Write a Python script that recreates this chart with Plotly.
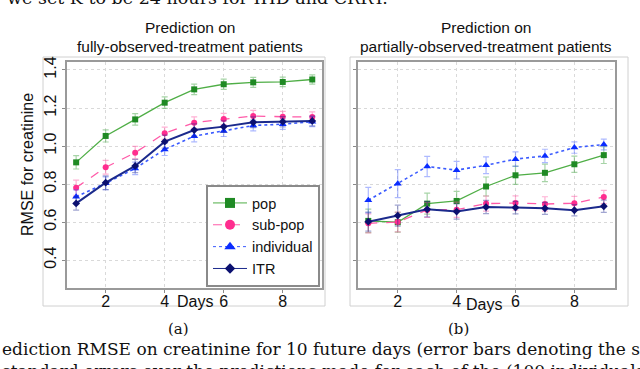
import plotly.graph_objects as go

days = [1, 2, 3, 4, 5, 6, 7, 8, 9]

# panel (a): fully-observed-treatment patients
a_pop = [0.914, 1.053, 1.140, 1.228, 1.298, 1.325, 1.335, 1.337, 1.350]
a_pop_err = [0.035, 0.032, 0.030, 0.030, 0.028, 0.027, 0.026, 0.025, 0.024]
a_sub = [0.781, 0.888, 0.965, 1.067, 1.123, 1.142, 1.158, 1.154, 1.153]
a_sub_err = [0.040, 0.036, 0.033, 0.032, 0.030, 0.030, 0.029, 0.028, 0.027]
a_ind = [0.733, 0.804, 0.882, 0.982, 1.052, 1.079, 1.108, 1.115, 1.128]
a_ind_err = [0.036, 0.034, 0.033, 0.032, 0.030, 0.029, 0.028, 0.027, 0.026]
a_itr = [0.698, 0.807, 0.895, 1.023, 1.084, 1.102, 1.125, 1.128, 1.132]
a_itr_err = [0.035, 0.036, 0.035, 0.034, 0.032, 0.030, 0.028, 0.027, 0.026]

# panel (b): partially-observed-treatment patients
b_pop = [0.606, 0.599, 0.697, 0.711, 0.787, 0.846, 0.859, 0.904, 0.952]
b_pop_err = [0.062, 0.052, 0.055, 0.050, 0.050, 0.048, 0.046, 0.043, 0.044]
b_sub = [0.593, 0.600, 0.664, 0.665, 0.697, 0.700, 0.695, 0.699, 0.732]
b_sub_err = [0.050, 0.052, 0.040, 0.040, 0.040, 0.038, 0.038, 0.036, 0.035]
b_ind = [0.715, 0.802, 0.892, 0.873, 0.899, 0.931, 0.948, 0.992, 1.008]
b_ind_err = [0.067, 0.074, 0.053, 0.046, 0.044, 0.038, 0.035, 0.030, 0.028]
b_itr = [0.602, 0.634, 0.667, 0.655, 0.679, 0.676, 0.672, 0.662, 0.683]
b_itr_err = [0.050, 0.055, 0.040, 0.040, 0.035, 0.033, 0.032, 0.030, 0.032]

y_ticks = [0.4, 0.6, 0.8, 1.0, 1.2, 1.4]
x_ticks = [2, 4, 6, 8]

methods = [
    # name, line colour, marker colour, error colour, dash, symbol, size, width
    ("pop", "#4fae46", "#1f8a24", "rgba(60,160,60,0.45)", "solid", "square", 6, 1.3),
    ("sub-pop", "#ff5aa8", "#ff2d8f", "rgba(255,80,160,0.45)", "dash", "circle", 6, 1.3),
    ("individual", "#3b5bff", "#0a2cff", "rgba(50,80,255,0.40)", "dot", "triangle-up", 7, 1.6),
    ("ITR", "#1b2a8c", "#0b1070", "rgba(20,30,140,0.40)", "solid", "diamond", 6, 2.0),
]

panels = [
    ("x", "y", [(a_pop, a_pop_err), (a_sub, a_sub_err), (a_ind, a_ind_err), (a_itr, a_itr_err)]),
    ("x2", "y2", [(b_pop, b_pop_err), (b_sub, b_sub_err), (b_ind, b_ind_err), (b_itr, b_itr_err)]),
]

fig = go.Figure()

for xa, ya, series in panels:
    for (name, lc, mc, ec, dash, sym, ms, lw), (vals, errs) in zip(methods, series):
        fig.add_trace(go.Scatter(
            x=days, y=vals, xaxis=xa, yaxis=ya, mode="lines+markers",
            line=dict(color=lc, width=lw, dash=dash),
            marker=dict(color=mc, symbol=sym, size=ms),
            error_y=dict(type="data", array=errs, color=ec, thickness=1.2, width=3),
            showlegend=False, hoverinfo="skip"))

# legend entries with larger symbols
for name, lc, mc, ec, dash, sym, ms, lw in methods:
    fig.add_trace(go.Scatter(
        x=[None], y=[None], mode="lines+markers", name=name,
        line=dict(color=lc, width=1, dash=dash),
        marker=dict(color=mc, symbol=sym, size=10 if name != "ITR" else 8)))

W, H = 640, 369


def px(v):
    return v / W


def py(v):
    return 1 - v / H


axis_common = dict(
    showline=True, linecolor="#9a9a9a", linewidth=1.5, mirror=True,
    showgrid=True, gridcolor="#d9d9d9", griddash="dot", gridwidth=1,
    ticks="outside", ticklen=3, tickcolor="#8a8a8a", zeroline=False, automargin=False,
    tickfont=dict(family="Liberation Sans, Arial", size=16, color="#111"),
)

fig.update_layout(
    width=W, height=H, margin=dict(l=0, r=0, t=0, b=0),
    paper_bgcolor="white", plot_bgcolor="white",
    showlegend=True,
    legend=dict(
        x=px(320), y=py(287), xanchor="right", yanchor="bottom",
        bgcolor="white", bordercolor="#8a8a8a", borderwidth=2,
        font=dict(family="Liberation Sans, Arial", size=14.5, color="#111"),
        tracegroupgap=0, itemwidth=34,
    ),
    xaxis=dict(domain=[px(67), px(322)], range=[0.69, 9.33], tickvals=x_ticks, anchor="y",
               ticklabelstandoff=-5, **axis_common),
    yaxis=dict(domain=[py(288), py(62)], range=[0.253, 1.442], tickvals=y_ticks, tickformat=".1f",
               tickangle=-90, anchor="x", **axis_common),
    xaxis2=dict(domain=[px(358), px(615)], range=[0.65, 9.38], tickvals=x_ticks, anchor="y2",
                ticklabelstandoff=-5, **axis_common),
    yaxis2=dict(domain=[py(288), py(62)], range=[0.253, 1.442], tickvals=y_ticks, showticklabels=False,
                anchor="x2", **axis_common),
)

# light outer frames around each panel
for x0, x1 in [(43, 325), (350, 628)]:
    fig.add_shape(type="rect", xref="paper", yref="paper", x0=px(x0), x1=px(x1), y0=py(306), y1=py(57),
                  line=dict(color="#d0d0d0", width=1), layer="below")

sans = "Liberation Sans, Arial"
serif = "DejaVu Serif, serif"
notes = [
    (px(190), py(28), "Prediction on", sans, 15.5, "center"),
    (px(190), py(46), "fully-observed-treatment patients", sans, 15.5, "center"),
    (px(486), py(28), "Prediction on", sans, 15.5, "center"),
    (px(486), py(46), "partially-observed-treatment patients", sans, 15.5, "center"),
    (px(195), py(301), "Days", sans, 16, "center"),
    (px(484), py(304), "Days", sans, 16, "center"),
    (px(178), py(329), "(a)", serif, 15, "center"),
    (px(458), py(329), "(b)", serif, 15, "center"),
]
for x, y, text, fam, size, anchor in notes:
    fig.add_annotation(x=x, y=y, xref="paper", yref="paper", text=text, showarrow=False,
                       xanchor=anchor, yanchor="middle", font=dict(family=fam, size=size, color="#111"))

fig.add_annotation(x=px(27), y=py(165), xref="paper", yref="paper", text="RMSE for creatinine",
                   textangle=-90, showarrow=False, xanchor="center", yanchor="middle",
                   font=dict(family=sans, size=16, color="#111"))

# surrounding paper text
fig.add_annotation(x=px(390), y=py(10), xref="paper", yref="paper", xanchor="right", yanchor="bottom",
                   text="we set K to be 24 hours for IHD and CRRT.", showarrow=False,
                   font=dict(family=serif, size=17.5, color="#111"))
fig.add_annotation(x=px(0), y=py(349), xref="paper", yref="paper", xanchor="left", yanchor="middle",
                   text="ediction RMSE on creatinine for 10 future days (error bars denoting the s",
                   showarrow=False, font=dict(family=serif, size=17.0, color="#111"))
fig.add_annotation(x=px(0), y=py(359), xref="paper", yref="paper", xanchor="left", yanchor="top",
                   text="standard errors over the predictions made for each of the (100 individuals)",
                   showarrow=False, font=dict(family=serif, size=17.0, color="#111"))

fig.write_html("out.html", config={"displayModeBar": False},
               post_script="document.body.style.margin='0';")
